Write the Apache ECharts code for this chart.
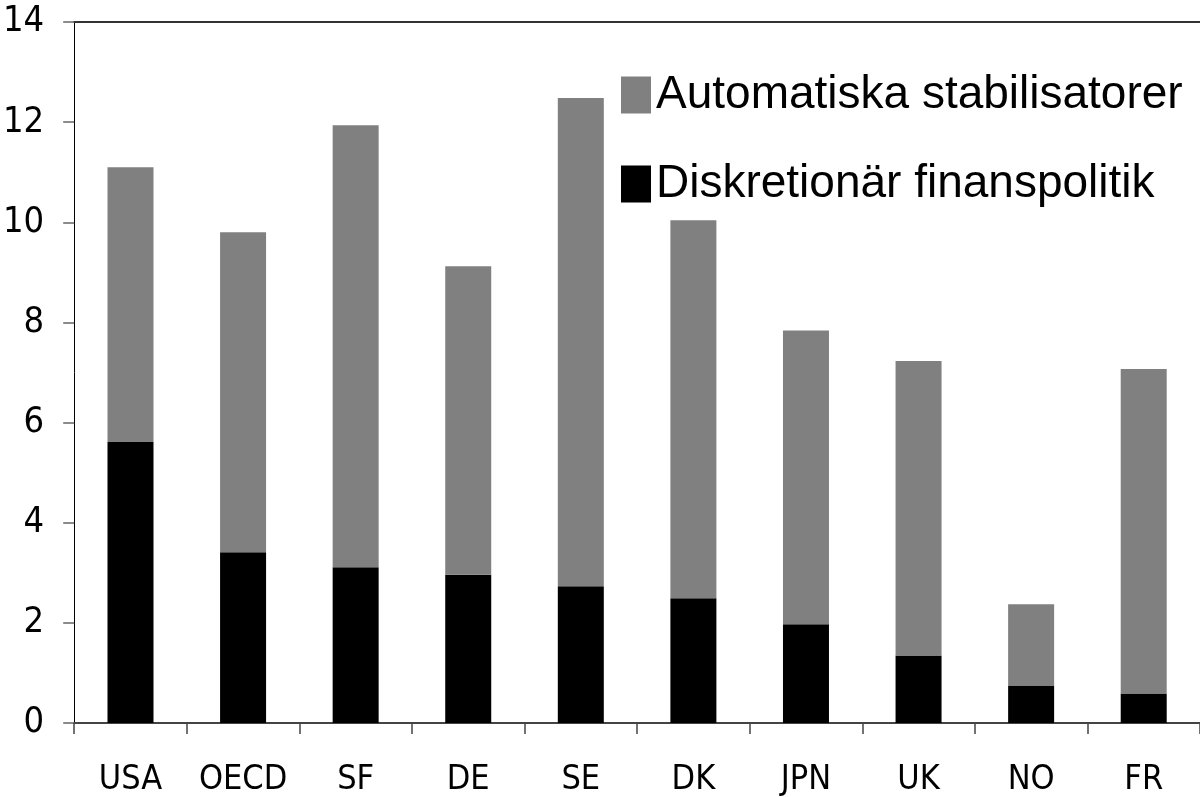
<!DOCTYPE html>
<html>
<head>
<meta charset="utf-8">
<script src="https://cdn.jsdelivr.net/npm/echarts@6/dist/echarts.min.js"></script>
<style>
  html, body { margin: 0; padding: 0; background: #fff; }
  #chart { width: 1200px; height: 797px; }
</style>
</head>
<body>
<div id="chart"></div>
<script>
'use strict';

var countries = ['USA', 'OECD', 'SF', 'DE', 'SE', 'DK', 'JPN', 'UK', 'NO', 'FR'];
// discretionary fiscal policy (black, bottom)
var diskretionar = [5.61, 3.41, 3.11, 2.96, 2.73, 2.49, 1.97, 1.35, 0.75, 0.59];
// automatic stabilisers (grey, stacked on top)
var automatiska = [5.49, 6.39, 8.83, 6.16, 9.75, 7.55, 5.87, 5.88, 1.62, 6.48];
var yTicks = { min: 0, max: 14, interval: 2 };

var narrow = "'Liberation Sans Narrow', 'Arial Narrow', 'DejaVu Sans Condensed', sans-serif";

var chart = echarts.init(document.getElementById('chart'), null, { renderer: 'canvas' });

var options = {
    animation: false,
    backgroundColor: '#fff',
    grid: {
        left: 73,
        right: 0,
        top: 22,
        bottom: 74
    },
    legend: {
        data: ['Automatiska stabilisatorer', 'Diskretionär finanspolitik'],
        orient: 'vertical',
        left: 621,
        top: 72,
        padding: 0,
        itemWidth: 30,
        itemHeight: 37,
        itemGap: 43,
        icon: 'rect',
        textStyle: {
            fontFamily: "'Liberation Sans', Arial, sans-serif",
            fontSize: 46,
            color: '#000'
        }
    },
    xAxis: [
        {
            type: 'category',
            data: countries,
            axisLine: { lineStyle: { color: '#444', width: 2 } },
            axisTick: { show: true, interval: 0, length: 11, lineStyle: { color: '#444', width: 1.5 } },
            axisLabel: {
                interval: 0,
                margin: 40,
                color: '#000',
                fontFamily: narrow,
                fontSize: 34
            }
        },
        {
            type: 'category',
            position: 'top',
            data: countries,
            axisLine: { show: true, lineStyle: { color: '#333', width: 2 } },
            axisTick: { show: false },
            axisLabel: { show: false }
        }
    ],
    yAxis: {
        type: 'value',
        min: yTicks.min,
        max: yTicks.max,
        interval: yTicks.interval,
        axisLine: { show: true, lineStyle: { color: '#000', width: 1 } },
        axisTick: { show: true, length: 11, lineStyle: { color: '#666', width: 1.5 } },
        splitLine: { show: false },
        axisLabel: {
            margin: 30,
            color: '#000',
            fontFamily: narrow,
            fontSize: 36
        }
    },
    series: [
        {
            name: 'Diskretionär finanspolitik',
            type: 'bar',
            stack: 'total',
            barWidth: 46,
            itemStyle: { color: '#000000' },
            data: diskretionar
        },
        {
            name: 'Automatiska stabilisatorer',
            type: 'bar',
            stack: 'total',
            barWidth: 46,
            itemStyle: { color: '#808080' },
            data: automatiska
        }
    ]
};

chart.setOption(options);
window.onresize = function() {
    chart.resize();
};
</script>
</body>
</html>
